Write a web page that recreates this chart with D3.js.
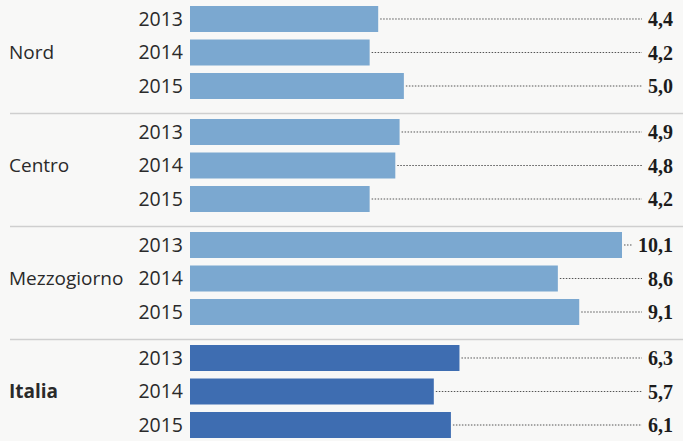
<!DOCTYPE html>
<html><head><meta charset="utf-8">
<script src="https://cdn.jsdelivr.net/npm/d3@7"></script>
<style>html,body{margin:0;padding:0;background:#f8f8f7;}svg{display:block;}</style>
</head><body>
<script>
const regions = ["Nord", "Centro", "Mezzogiorno", "Italia"];
const years = ["2013", "2014", "2015"];
const nordValues = [4.4, 4.2, 5.0];
const centroValues = [4.9, 4.8, 4.2];
const mezzogiornoValues = [10.1, 8.6, 9.1];
const italiaValues = [6.3, 5.7, 6.1];
const valueLabels = ["4,4","4,2","5,0","4,9","4,8","4,2","10,1","8,6","9,1","6,3","5,7","6,1"];

const seriesByRegion = {Nord: nordValues, Centro: centroValues, Mezzogiorno: mezzogiornoValues, Italia: italiaValues};
const rows = [];
regions.forEach((r, gi) => years.forEach((y, yi) => rows.push({region: r, year: y, value: seriesByRegion[r][yi], label: valueLabels[gi*3+yi]})));

const W = 683, H = 441;
const svg = d3.select("body").append("svg").attr("width", W).attr("height", H);
svg.append("rect").attr("width", W).attr("height", H).attr("fill", "#f8f8f7");

const x = d3.scaleLinear().domain([0, 10.1]).range([190, 622]);
const gScale = d3.scaleBand().domain(regions).range([6, 6 + 4*113]);
const yScale = d3.scaleBand().domain(years).range([0, 93]).paddingInner(0.224).paddingOuter(0);

const colorFor = r => r === "Italia" ? "#3e6db1" : "#7ba8d0";
const labelRight = 673;

// separators
svg.selectAll("line.sep").data(regions.slice(1)).join("line")
  .attr("x1", 10).attr("x2", 683)
  .attr("y1", d => gScale(d) - 5.5).attr("y2", d => gScale(d) - 5.5)
  .attr("stroke", "#cfcfcf").attr("stroke-width", 1.5);

// region labels
svg.selectAll("text.region").data(regions).join("text")
  .attr("x", 9)
  .attr("y", d => gScale(d) + yScale("2014") + yScale.bandwidth()/2)
  .attr("dy", "0.35em")
  .attr("font-family", "'Open Sans', sans-serif")
  .attr("font-size", 19)
  .attr("font-weight", d => d === "Italia" ? 700 : 400)
  .attr("fill", "#2a2a2a")
  .text(d => d);

const rowY = d => gScale(d.region) + yScale(d.year);

// year labels
svg.selectAll("text.year").data(rows).join("text")
  .attr("x", 183)
  .attr("y", d => rowY(d) + yScale.bandwidth()/2)
  .attr("dy", "0.35em")
  .attr("text-anchor", "end")
  .attr("font-family", "'Open Sans', sans-serif")
  .attr("font-size", 19.5)
  .attr("fill", "#2a2a2a")
  .text(d => d.year);

// bars
svg.selectAll("rect.bar").data(rows).join("rect")
  .attr("x", x(0))
  .attr("y", d => rowY(d))
  .attr("width", d => x(d.value) - x(0))
  .attr("height", yScale.bandwidth())
  .attr("fill", d => colorFor(d.region));

// value labels
const labels = svg.selectAll("text.val").data(rows).join("text")
  .attr("x", labelRight)
  .attr("y", d => rowY(d) + yScale.bandwidth()/2)
  .attr("dy", "0.35em")
  .attr("text-anchor", "end")
  .attr("font-family", "'Liberation Serif', serif")
  .attr("font-size", 20)
  .attr("font-weight", 700)
  .attr("fill", "#1c1c1c")
  .text(d => d.label);

// leader lines
labels.each(function(d) {
  const w = this.getComputedTextLength();
  const xEnd = labelRight - w - 6;
  svg.append("line")
    .attr("x1", x(d.value) + 2).attr("x2", xEnd)
    .attr("y1", rowY(d) + yScale.bandwidth()/2).attr("y2", rowY(d) + yScale.bandwidth()/2)
    .attr("stroke", "#555").attr("stroke-width", 1)
    .attr("stroke-dasharray", "1.5,1.5");
});
</script>
</body></html>
